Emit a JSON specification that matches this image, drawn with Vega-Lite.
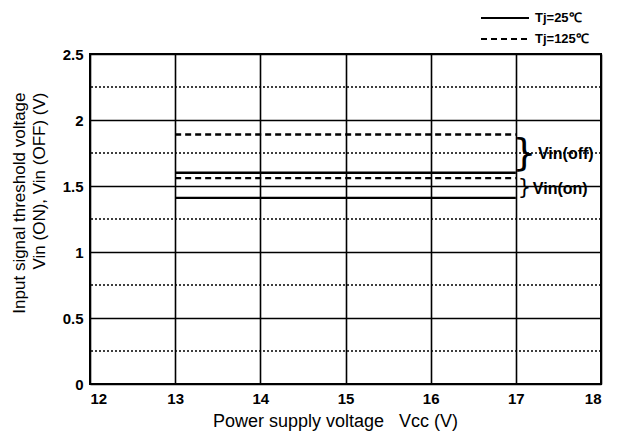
{
  "$schema": "https://vega.github.io/schema/vega-lite/v6.json",
  "width": 511,
  "height": 330,
  "autosize": {"type": "none"},
  "padding": {"left": 90, "top": 54, "right": 21, "bottom": 47},
  "background": "white",
  "config": {
    "view": {"stroke": "black", "strokeWidth": 2},
    "axis": {
      "labelFont": "Liberation Sans",
      "labelFontWeight": "bold",
      "labelFontSize": 15,
      "labelColor": "black",
      "ticks": false,
      "domain": false,
      "grid": true,
      "gridColor": "black",
      "gridWidth": 1.6,
      "gridOpacity": 1,
      "titleFont": "Liberation Sans",
      "titleFontWeight": "normal",
      "titleFontSize": 17,
      "titleColor": "black",
      "format": "~g"
    }
  },
  "datasets": {
    "lines": [
      {"series": "off25", "tj": "Tj=25℃", "vcc": 13, "v": 1.6},
      {"series": "off25", "tj": "Tj=25℃", "vcc": 17, "v": 1.6},
      {"series": "on25", "tj": "Tj=25℃", "vcc": 13, "v": 1.41},
      {"series": "on25", "tj": "Tj=25℃", "vcc": 17, "v": 1.41},
      {"series": "off125", "tj": "Tj=125℃", "vcc": 13, "v": 1.89},
      {"series": "off125", "tj": "Tj=125℃", "vcc": 17, "v": 1.89},
      {"series": "on125", "tj": "Tj=125℃", "vcc": 13, "v": 1.56},
      {"series": "on125", "tj": "Tj=125℃", "vcc": 17, "v": 1.56}
    ],
    "minor": [{"v": 0.25}, {"v": 0.75}, {"v": 1.25}, {"v": 1.75}, {"v": 2.25}]
  },
  "layer": [
    {
      "data": {"name": "minor"},
      "mark": {"type": "rule", "strokeDash": [2, 2], "strokeWidth": 1.6, "color": "black"},
      "encoding": {
        "y": {
          "field": "v", "type": "quantitative",
          "scale": {"domain": [0, 2.5], "nice": false},
          "axis": {"values": [0, 0.5, 1, 1.5, 2, 2.5], "labelPadding": 7, "titlePadding": 14, "titleLineHeight": 20,
                   "titleAnchor": "end", "titleAlign": "right", "titleY": 38,
                   "title": ["Input signal threshold voltage", "Vin (ON), Vin (OFF) (V)"]}
        }
      }
    },
    {
      "data": {"name": "lines"},
      "mark": {"type": "line", "strokeWidth": 2.4, "color": "black"},
      "encoding": {
        "x": {
          "field": "vcc", "type": "quantitative",
          "scale": {"domain": [12, 18], "nice": false},
          "axis": {"values": [12, 13, 14, 15, 16, 17, 18], "labelPadding": 7, "titlePadding": 6,
                   "titleFontSize": 18, "titleX": 245,
                   "title": "Power supply voltage\u00a0\u00a0\u00a0Vcc (V)"}
        },
        "y": {
          "field": "v", "type": "quantitative",
          "scale": {"domain": [0, 2.5], "nice": false},
          "axis": {"values": [0, 0.5, 1, 1.5, 2, 2.5], "labelPadding": 7, "titlePadding": 14, "titleLineHeight": 20,
                   "titleAnchor": "end", "titleAlign": "right", "titleY": 38,
                   "title": ["Input signal threshold voltage", "Vin (ON), Vin (OFF) (V)"]}
        },
        "detail": {"field": "series"},
        "strokeDash": {
          "field": "tj", "type": "nominal",
          "scale": {"domain": ["Tj=25℃", "Tj=125℃"], "range": [[1, 0], [6, 4]]},
          "legend": {
            "orient": "none", "legendX": 408, "legendY": -43, "title": null,
            "symbolType": "M-4,0H4", "symbolSize": 144, "symbolStrokeWidth": 2,
            "symbolStrokeColor": "black", "symbolFillColor": "transparent", "labelFont": "Liberation Sans",
            "labelFontSize": 13, "labelFontWeight": "bold", "labelColor": "black", "labelOffset": 23, "rowPadding": 7
          }
        }
      }
    },
    {
      "data": {"values": [{"vcc": 17.1, "v": 1.745, "label": "}"}]},
      "mark": {"type": "text", "font": "DejaVu Sans", "fontSize": 38, "fontWeight": "normal", "baseline": "middle", "align": "center", "color": "black"},
      "encoding": {
        "x": {"field": "vcc", "type": "quantitative"},
        "y": {"field": "v", "type": "quantitative"},
        "text": {"field": "label"}
      }
    },
    {
      "data": {"values": [{"vcc": 17.1, "v": 1.485, "label": "}"}]},
      "mark": {"type": "text", "font": "DejaVu Sans", "fontSize": 21, "fontWeight": "normal", "baseline": "middle", "align": "center", "color": "black"},
      "encoding": {
        "x": {"field": "vcc", "type": "quantitative"},
        "y": {"field": "v", "type": "quantitative"},
        "text": {"field": "label"}
      }
    },
    {
      "data": {"values": [{"vcc": 17.26, "v": 1.745, "label": "Vin(off)"}, {"vcc": 17.2, "v": 1.48, "label": "Vin(on)"}]},
      "mark": {"type": "text", "font": "Liberation Sans", "fontSize": 16, "fontWeight": "bold", "baseline": "middle", "align": "left", "color": "black"},
      "encoding": {
        "x": {"field": "vcc", "type": "quantitative"},
        "y": {"field": "v", "type": "quantitative"},
        "text": {"field": "label"}
      }
    }
  ]
}
